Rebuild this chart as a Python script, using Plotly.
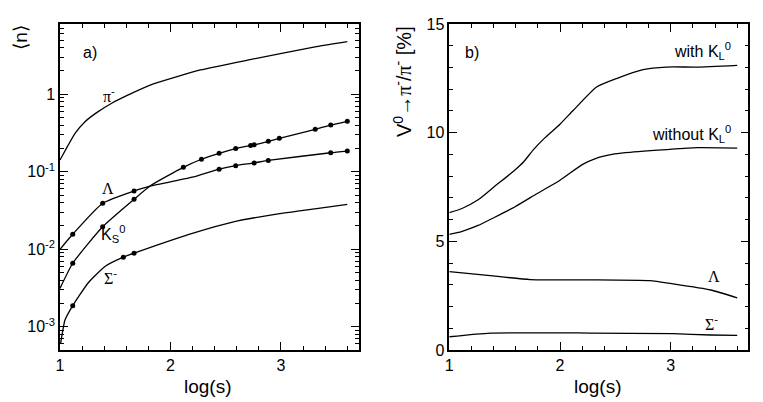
import plotly.graph_objects as go

# --- panel a) : mean multiplicities vs log(s) ---
pi_x = [1.0, 1.075, 1.136, 1.226, 1.332, 1.468, 1.618, 1.845, 2.27, 2.72, 3.32, 3.60]
pi_y = [0.142, 0.222, 0.313, 0.443, 0.58, 0.765, 0.98, 1.36, 2.06, 2.8, 4.12, 4.79]

k0s_x = [1.0, 1.115, 1.386, 1.67, 1.815, 2.116, 2.28, 2.44, 2.59, 2.725, 2.757, 2.885, 2.985, 3.31, 3.45, 3.60]
k0s_y = [0.00313, 0.0066, 0.0195, 0.0441, 0.0655, 0.114, 0.145, 0.173, 0.199, 0.219, 0.223, 0.247, 0.27, 0.353, 0.40, 0.448]
k0s_dot_x = [1.115, 1.386, 1.67, 2.116, 2.28, 2.44, 2.59, 2.725, 2.757, 2.885, 2.985, 3.31, 3.45, 3.60]
k0s_dot_y = [0.0066, 0.0195, 0.0441, 0.114, 0.145, 0.173, 0.199, 0.219, 0.223, 0.247, 0.27, 0.353, 0.40, 0.448]

lam_x = [1.0, 1.115, 1.386, 1.67, 1.815, 2.22, 2.44, 2.59, 2.757, 2.885, 3.45, 3.60]
lam_y = [0.010, 0.0156, 0.0392, 0.0565, 0.0655, 0.0865, 0.108, 0.12, 0.13, 0.14, 0.176, 0.185]
lam_dot_x = [1.115, 1.386, 1.67, 2.44, 2.59, 2.757, 2.885, 3.45, 3.60]
lam_dot_y = [0.0156, 0.0392, 0.0565, 0.108, 0.12, 0.13, 0.14, 0.176, 0.185]

sig_x = [1.005, 1.045, 1.115, 1.256, 1.407, 1.573, 1.67, 2.22, 2.57, 2.96, 3.60]
sig_y = [0.0006, 0.00122, 0.00187, 0.0037, 0.006, 0.0079, 0.0089, 0.0164, 0.0226, 0.0284, 0.038]
sig_dot_x = [1.115, 1.573, 1.67]
sig_dot_y = [0.00187, 0.0079, 0.0089]

# --- panel b) : V0 -> pi- / pi- [%] ---
withk_x = [1.0, 1.11, 1.26, 1.41, 1.59, 1.67, 1.76, 1.865, 2.0, 2.12, 2.33, 2.51, 2.75, 2.96, 3.235, 3.60]
withk_y = [6.32, 6.50, 6.91, 7.53, 8.27, 8.65, 9.22, 9.77, 10.39, 11.03, 12.1, 12.49, 12.9, 13.02, 13.02, 13.1]

wok_x = [1.0, 1.11, 1.26, 1.41, 1.59, 1.79, 2.0, 2.20, 2.32, 2.47, 2.59, 2.96, 3.235, 3.60]
wok_y = [5.32, 5.45, 5.73, 6.11, 6.58, 7.19, 7.81, 8.53, 8.81, 9.0, 9.08, 9.22, 9.31, 9.29]

lamb_x = [1.0, 1.37, 1.73, 2.27, 2.81, 3.02, 3.36, 3.60]
lamb_y = [3.61, 3.42, 3.24, 3.23, 3.19, 3.04, 2.76, 2.40]

sigb_x = [1.0, 1.37, 2.27, 3.02, 3.36, 3.60]
sigb_y = [0.61, 0.78, 0.78, 0.75, 0.69, 0.67]

SERIF = 'font-family:Liberation Serif'
FONT = 'Liberation Sans'

fig = go.Figure()

line = dict(color='black', width=1.3, shape='spline', smoothing=0.5)
dot = dict(color='black', size=5)

for xs, ys in [(pi_x, pi_y), (k0s_x, k0s_y), (lam_x, lam_y), (sig_x, sig_y)]:
    fig.add_trace(go.Scatter(x=xs, y=ys, mode='lines', line=line, xaxis='x', yaxis='y'))
for xs, ys in [(k0s_dot_x, k0s_dot_y), (lam_dot_x, lam_dot_y), (sig_dot_x, sig_dot_y)]:
    fig.add_trace(go.Scatter(x=xs, y=ys, mode='markers', marker=dot, xaxis='x', yaxis='y'))

for xs, ys in [(withk_x, withk_y), (wok_x, wok_y), (lamb_x, lamb_y), (sigb_x, sigb_y)]:
    fig.add_trace(go.Scatter(x=xs, y=ys, mode='lines', line=line, xaxis='x2', yaxis='y2'))

axis_common = dict(showline=True, linecolor='black', linewidth=1.5, mirror='ticks',
                   ticks='inside', tickcolor='black', ticklen=8, tickwidth=1,
                   showgrid=False, zeroline=False, automargin=False,
                   tickfont=dict(family=FONT, size=16, color='black'))

# page body has an 8px margin, so the figure is 8px smaller than the window
fig.update_layout(
    width=755, height=394,
    margin=dict(l=0, r=0, t=0, b=0),
    paper_bgcolor='white', plot_bgcolor='white',
    showlegend=False,
    xaxis=dict(domain=[0.0689, 0.4649], range=[1, 3.706], dtick=1, anchor='y',
               minor=dict(dtick=0.2, ticks='inside', ticklen=4, tickcolor='black'),
               **axis_common),
    yaxis=dict(domain=[0.1320, 0.9594], type='log', range=[-3.30, 0.907], anchor='x',
               tickvals=[0.001, 0.01, 0.1, 1],
               ticktext=['10<sup>-3</sup>', '10<sup>-2</sup>', '10<sup>-1</sup>', '1'],
               minor=dict(dtick='D1', ticks='inside', ticklen=4, tickcolor='black'),
               **axis_common),
    xaxis2=dict(domain=[0.5845, 0.9805], range=[1, 3.70], dtick=1, anchor='y2',
                minor=dict(dtick=0.2, ticks='inside', ticklen=4, tickcolor='black'),
                **axis_common),
    yaxis2=dict(domain=[0.1320, 0.9594], range=[0, 15], dtick=5, anchor='x2',
                minor=dict(dtick=1, ticks='inside', ticklen=4, tickcolor='black'),
                **axis_common),
)


def label(text, x, y, xref, yref, size=16, **kw):
    kw.setdefault('xanchor', 'center')
    kw.setdefault('yanchor', 'middle')
    fig.add_annotation(text=text, x=x, y=y, xref=xref, yref=yref, showarrow=False,
                       font=dict(family=FONT, size=size, color='black'), **kw)


# panel a) labels
label('a)', 1.27, 0.533, 'x', 'y')
label(f'<span style="{SERIF}">π</span><sup>-</sup>', 1.44, -0.01, 'x', 'y')
label(f'<span style="{SERIF}">Λ</span>', 1.43, -1.22, 'x', 'y')
label('K<sub>S</sub><sup>0</sup>', 1.48, -1.80, 'x', 'y')
label(f'<span style="{SERIF}">Σ</span><sup>-</sup>', 1.46, -2.36, 'x', 'y')

# panel b) labels
label('b)', 1.205, 13.7, 'x2', 'y2')
label('with K<sub>L</sub><sup>0</sup>', 3.563, 13.75, 'x2', 'y2', xanchor='right')
label('without K<sub>L</sub><sup>0</sup>', 3.563, 9.92, 'x2', 'y2', xanchor='right')
label(f'<span style="{SERIF}">Λ</span>', 3.39, 3.38, 'x2', 'y2')
label(f'<span style="{SERIF}">Σ</span><sup>-</sup>', 3.37, 1.26, 'x2', 'y2')

# axis titles
label('log(s)', 0.2649, 0.0381, 'paper', 'paper', size=19)
label('log(s)', 0.7821, 0.0381, 'paper', 'paper', size=19)
label('⟨n⟩', 0.0, 0.926, 'paper', 'paper', size=19, textangle=-90, xanchor='left')
label(f'V<sup>0</sup>→<span style="{SERIF}">π</span><sup>-</sup>/<span style="{SERIF}">π</span><sup>-</sup> [%]',
      0.5232, 0.8122, 'paper', 'paper', size=20, textangle=-90)

fig.write_html("out.html")
